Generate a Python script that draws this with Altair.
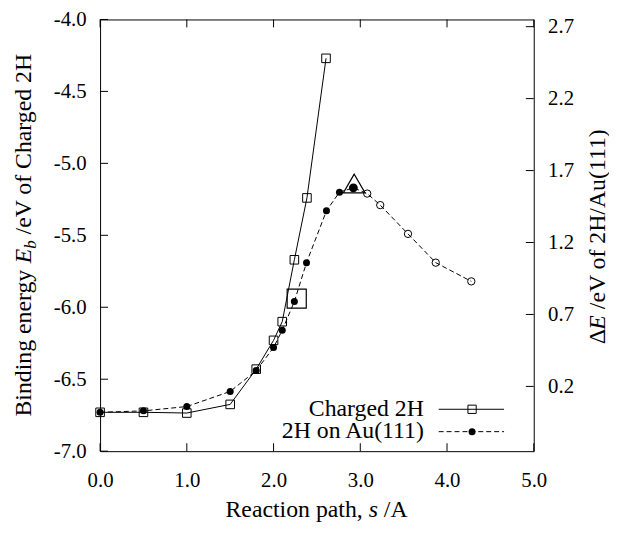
import altair as alt
import pandas as pd

# ---------------- data ----------------
# Charged 2H : binding energy E_b (left axis)
charged_s = [0.0, 0.5, 1.0, 1.5, 1.8, 2.0, 2.1, 2.24, 2.385, 2.605]
charged_E = [-6.73, -6.73, -6.735, -6.675, -6.43, -6.23, -6.10, -5.67, -5.24, -4.27]

# 2H on Au(111) : Delta E (right axis)
au_s_filled = [0.0, 0.5, 1.0, 1.5, 1.8, 2.0, 2.1, 2.24, 2.38, 2.61, 2.76, 2.92]
au_dE_filled = [0.02, 0.03, 0.06, 0.165, 0.31, 0.47, 0.59, 0.79, 1.06, 1.42, 1.55, 1.58]
au_s_open = [3.08, 3.23, 3.55, 3.87, 4.28]
au_dE_open = [1.54, 1.46, 1.26, 1.06, 0.93]

# special markers
ts_dot_s = [2.92]
ts_dot_dE = [1.58]
triangle_s = [2.93]
triangle_dE = [1.61]
big_square_s = [2.267]
big_square_E = [-5.94]

# axes
x_ticks = [0.0, 1.0, 2.0, 3.0, 4.0, 5.0]
left_ticks = [-7.0, -6.5, -6.0, -5.5, -5.0, -4.5, -4.0]
right_ticks = [0.2, 0.7, 1.2, 1.7, 2.2, 2.7]
x_domain = [0.0, 5.0]
left_domain = [-7.0, -4.0]
right_domain = [-0.25, 2.75]
legend_labels = ["Charged 2H", "2H on Au(111)"]

# ---------------- layout ----------------
W, H = 438, 436
FONT = "Liberation Serif"
FS = 24
TFS = 21

one = pd.DataFrame({"k": [0]})
charged_df = pd.DataFrame({"x": charged_s, "y": charged_E})
au_all_df = pd.DataFrame({"x": au_s_filled + au_s_open, "y": au_dE_filled + au_dE_open})
au_filled_df = pd.DataFrame({"x": au_s_filled, "y": au_dE_filled})
au_open_df = pd.DataFrame({"x": au_s_open, "y": au_dE_open})
ts_dot_df = pd.DataFrame({"x": ts_dot_s, "y": ts_dot_dE})
tri_df = pd.DataFrame({"x": triangle_s, "y": triangle_dE})
bigsq_df = pd.DataFrame({"x": big_square_s, "y": big_square_E})

xs = alt.Scale(domain=x_domain, nice=False, zero=False)
ls = alt.Scale(domain=left_domain, nice=False, zero=False)
rs = alt.Scale(domain=right_domain, nice=False, zero=False)

minus_fix = "replace(format(datum.value, '.1f'), '\u2212', '-')"
common = dict(labelExpr=minus_fix, title=None, ticks=False, domain=False, grid=False,
              labelFont=FONT, labelFontSize=TFS, labelColor="black", labelFlush=False,
              labelOverlap=False)
x_axis = alt.Axis(values=x_ticks, labelPadding=19, orient="bottom", **common)
l_axis = alt.Axis(values=left_ticks, labelPadding=14, orient="left", **common)
r_axis = alt.Axis(values=right_ticks, labelPadding=14, orient="right", **common)

X = alt.X("x:Q", scale=xs, axis=x_axis)
YL = alt.Y("y:Q", scale=ls, axis=l_axis)
YR = alt.Y("y:Q", scale=rs, axis=r_axis)

# ----- left-scale group -----
charged_line = alt.Chart(charged_df).mark_line(color="black", strokeWidth=1).encode(x=X, y=YL)
charged_pts = alt.Chart(charged_df).mark_point(shape="square", size=75, filled=False,
                                               color="black", strokeWidth=1, opacity=1).encode(x=X, y=YL)
big_sq = alt.Chart(bigsq_df).mark_point(shape="square", size=372, filled=False,
                                        color="black", strokeWidth=1.2, opacity=1).encode(x=X, y=YL)

lt_df = pd.DataFrame({"y": left_ticks})
left_tick_marks = alt.Chart(lt_df).mark_rule(color="black", strokeWidth=1).encode(
    y=YL, x=alt.value(0), x2=alt.value(8))
xt_df = pd.DataFrame({"x": x_ticks})
bottom_tick_marks = alt.Chart(xt_df).mark_rule(color="black", strokeWidth=1).encode(
    x=X, y=alt.value(H), y2=alt.value(H - 8))
top_tick_marks = alt.Chart(xt_df).mark_rule(color="black", strokeWidth=1).encode(
    x=X, y=alt.value(0), y2=alt.value(8))


def txt(s, x, y, angle=0, italic=False, size=FS, align="left"):
    return alt.Chart(one).mark_text(
        text=s, font=FONT, fontSize=size, fontStyle="italic" if italic else "normal",
        angle=angle, align=align, baseline="alphabetic", color="black"
    ).encode(x=alt.value(x), y=alt.value(y))


# axis titles (rich text built from pieces)
TY = 503
titles = [
    txt("Binding energy", -70, 401, angle=270),
    txt("E", -70, 246.3, angle=270, italic=True),
    txt("b", -65, 231.6, angle=270, italic=True, size=17),
    txt("/eV of Charged 2H", -70, 217.1, angle=270),
    txt("\u0394", 510, 328, angle=270),
    txt("E", 510, 313.3, angle=270, italic=True),
    txt("/eV of 2H/Au(111)", 510, 292.6, angle=270),
    txt("Reaction path,", 126.7, TY),
    txt("s", 271.3, TY, italic=True),
    txt("/A", 286.6, TY),
]

# legend (drawn inside the plot)
leg = [
    txt(legend_labels[0], 327, 400, align="right"),
    txt(legend_labels[1], 327, 423, align="right"),
    alt.Chart(one).mark_rule(color="black", strokeWidth=1).encode(
        x=alt.value(342), x2=alt.value(408), y=alt.value(393.7)),
    alt.Chart(one).mark_point(shape="square", size=70, filled=False, color="black",
                              strokeWidth=1, opacity=1).encode(x=alt.value(375.7), y=alt.value(393.7)),
    alt.Chart(one).mark_rule(color="black", strokeWidth=1, strokeDash=[5, 3]).encode(
        x=alt.value(342), x2=alt.value(408), y=alt.value(416.3)),
    alt.Chart(one).mark_point(shape="circle", size=50, filled=True, color="black",
                              opacity=1).encode(x=alt.value(375.7), y=alt.value(416.3)),
]

left_group = alt.layer(charged_line, charged_pts, big_sq, left_tick_marks,
                       bottom_tick_marks, top_tick_marks, *titles, *leg)

# ----- right-scale group -----
au_line = alt.Chart(au_all_df).mark_line(color="black", strokeWidth=1, strokeDash=[5, 3]).encode(x=X, y=YR)
au_filled = alt.Chart(au_filled_df).mark_point(shape="circle", size=50, filled=True,
                                               color="black", opacity=1).encode(x=X, y=YR)
au_open = alt.Chart(au_open_df).mark_point(shape="circle", size=55, filled=False,
                                           color="black", strokeWidth=1, opacity=1).encode(x=X, y=YR)
ts_dot = alt.Chart(ts_dot_df).mark_point(shape="circle", size=80, filled=True,
                                         color="black", opacity=1).encode(x=X, y=YR)
tri = alt.Chart(tri_df).mark_point(shape="triangle-up", size=484, filled=False,
                                   color="black", strokeWidth=1.2, opacity=1).encode(x=X, y=YR)
rt_df = pd.DataFrame({"y": right_ticks})
right_tick_marks = alt.Chart(rt_df).mark_rule(color="black", strokeWidth=1).encode(
    y=YR, x=alt.value(W), x2=alt.value(W - 8))

right_group = alt.layer(au_line, au_filled, au_open, ts_dot, tri, right_tick_marks)

chart = alt.layer(left_group, right_group).resolve_scale(y="independent").properties(
    width=W, height=H,
    autosize=alt.AutoSizeParams(type="none"),
    padding={"left": 93, "top": 9, "right": 76, "bottom": 73},
    background="white",
).configure_view(stroke="black", strokeWidth=1).configure_axis(
    labelFont=FONT, labelFontSize=TFS, labelColor="black"
)

chart.save("out.html", embed_options={"renderer": "svg", "actions": False})
